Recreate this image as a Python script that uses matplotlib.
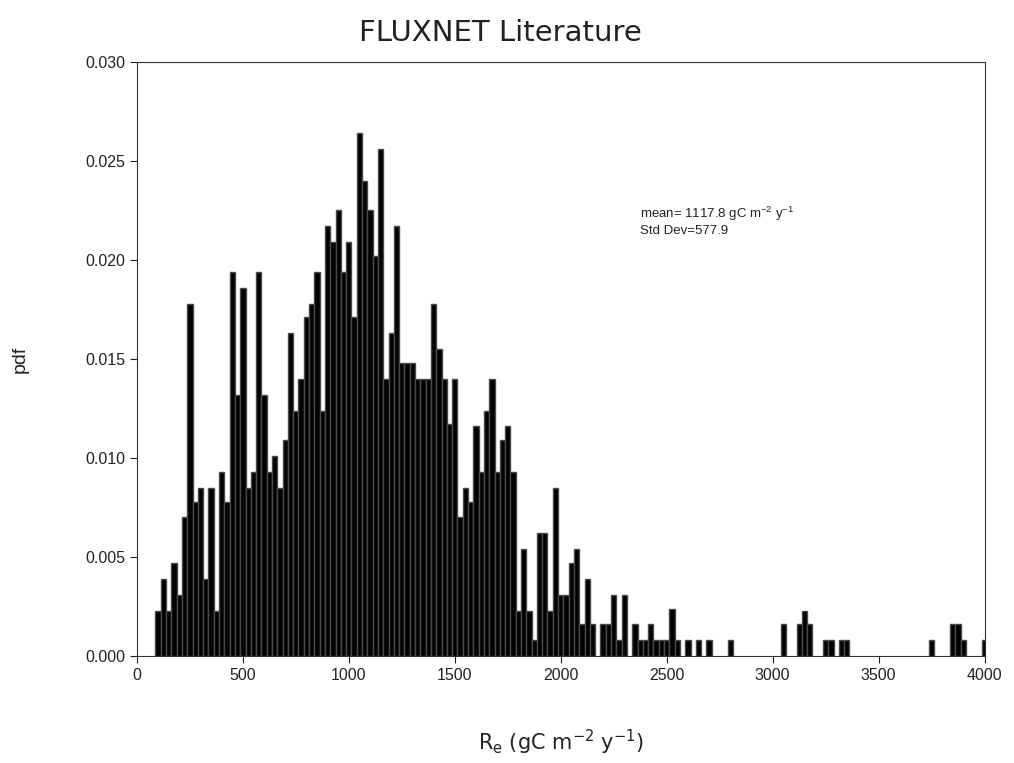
import matplotlib.pyplot as plt

plt.rcParams['font.family'] = ['Liberation Sans', 'DejaVu Sans']

# bin centres (gC m-2 y-1) and pdf, bin width 25
re_bins = [100, 125, 150, 175, 200, 225, 250, 275, 300, 325, 350, 375,
           400, 425, 450, 475, 500, 525, 550, 575, 600, 625, 650, 675,
           700, 725, 750, 775, 800, 825, 850, 875, 900, 925, 950, 975,
           1000, 1025, 1050, 1075, 1100, 1125, 1150, 1175, 1200, 1225, 1250, 1275,
           1300, 1325, 1350, 1375, 1400, 1425, 1450, 1475, 1500, 1525, 1550, 1575,
           1600, 1625, 1650, 1675, 1700, 1725, 1750, 1775, 1800, 1825, 1850, 1875,
           1900, 1925, 1950, 1975, 2000, 2025, 2050, 2075, 2100, 2125, 2150,
           2200, 2225, 2250, 2275, 2300, 2350, 2375, 2400, 2425, 2450, 2475,
           2500, 2525, 2550, 2600, 2650, 2700, 2800, 3050, 3125, 3150, 3175,
           3250, 3275, 3325, 3350, 3750, 3850, 3875, 3900, 4000]
pdf = [0.0023, 0.0039, 0.0023, 0.0047, 0.0031, 0.0070, 0.0178, 0.0078, 0.0085, 0.0039, 0.0085, 0.0023,
       0.0093, 0.0078, 0.0194, 0.0132, 0.0186, 0.0085, 0.0093, 0.0194, 0.0132, 0.0093, 0.0101, 0.0085,
       0.0109, 0.0163, 0.0124, 0.0140, 0.0171, 0.0178, 0.0194, 0.0124, 0.0217, 0.0209, 0.0225, 0.0194,
       0.0209, 0.0171, 0.0264, 0.0240, 0.0225, 0.0202, 0.0256, 0.0140, 0.0163, 0.0217, 0.0148, 0.0148,
       0.0148, 0.0140, 0.0140, 0.0140, 0.0178, 0.0155, 0.0140, 0.0117, 0.0140, 0.0070, 0.0085, 0.0078,
       0.0116, 0.0093, 0.0124, 0.0140, 0.0093, 0.0109, 0.0116, 0.0093, 0.0023, 0.0054, 0.0023, 0.0008,
       0.0062, 0.0062, 0.0023, 0.0085, 0.0031, 0.0031, 0.0047, 0.0054, 0.0016, 0.0039, 0.0016,
       0.0016, 0.0016, 0.0031, 0.0008, 0.0031, 0.0016, 0.0008, 0.0008, 0.0016, 0.0008, 0.0008,
       0.0008, 0.0024, 0.0008, 0.0008, 0.0008, 0.0008, 0.0008, 0.0016, 0.0016, 0.0023, 0.0016,
       0.0008, 0.0008, 0.0008, 0.0008, 0.0008, 0.0016, 0.0016, 0.0008, 0.0008]
bin_width = 25

fig = plt.figure(figsize=(10.14, 7.63), dpi=100)
ax = fig.add_axes([0.135, 0.140, 0.836, 0.779])

ax.bar(re_bins, pdf, width=bin_width, color="black", edgecolor="#4a4a4a", linewidth=1.0)

ax.set_xlim(0, 4000)
ax.set_ylim(0, 0.030)
ax.set_xticks(range(0, 4001, 500))
ax.set_yticks([0.000, 0.005, 0.010, 0.015, 0.020, 0.025, 0.030])
ax.set_yticklabels(["0.000", "0.005", "0.010", "0.015", "0.020", "0.025", "0.030"])
ax.tick_params(direction="out", length=5, labelsize=11.5, colors="#222222")
for s in ax.spines.values():
    s.set_color("#333333")

# title sits over the figure centre, not the axes centre
fig.text(500 / 1014, 1 - 33 / 763, "FLUXNET Literature", fontsize=21,
         family="DejaVu Sans", ha="center", va="center", color="#222222")
ax.set_xlabel(r"R$_\mathregular{e}$ (gC m$^\mathregular{-2}$ y$^\mathregular{-1}$)",
              fontsize=15, family="DejaVu Sans", color="#222222")
ax.xaxis.set_label_coords(0.5, -0.12)
ax.set_ylabel("pdf", fontsize=14, color="#222222")
ax.yaxis.set_label_coords(-0.128, 0.5)

ax.text(0.594, 0.760, "mean= 1117.8 gC m$^\\mathregular{-2}$ y$^\\mathregular{-1}$\nStd Dev=577.9",
        transform=ax.transAxes, fontsize=9.5, va="top", linespacing=1.25, color="#222222")

fig.savefig("out.png", dpi=100)
